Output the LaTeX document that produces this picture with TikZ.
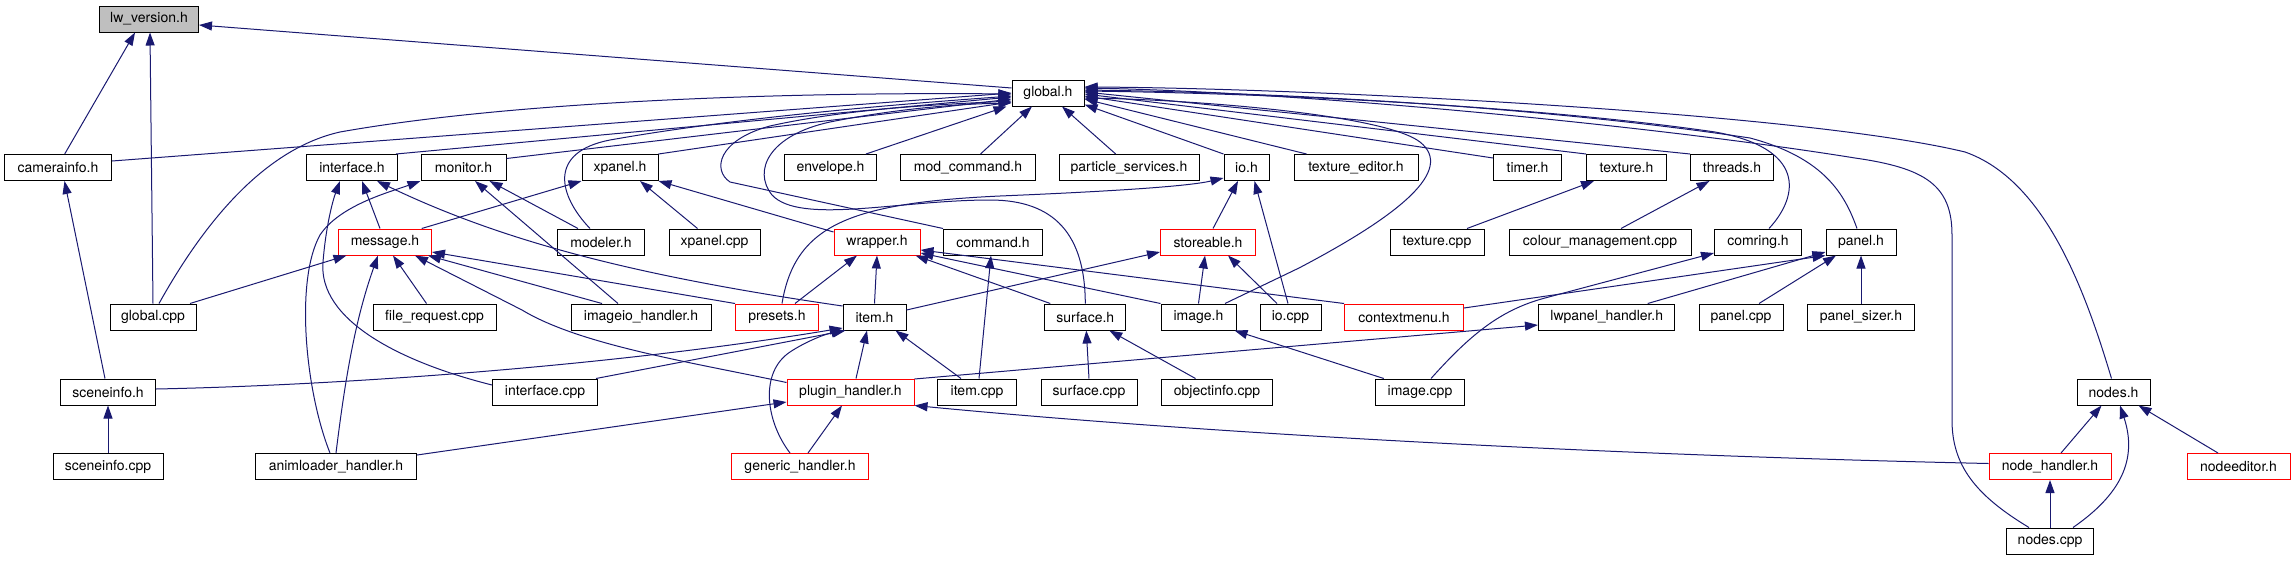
\documentclass[tikz,border=0pt]{standalone}
\usepackage{fontspec}
\setmainfont{TeX Gyre Heros}
\usetikzlibrary{arrows.meta}
\definecolor{edgec}{RGB}{25,25,112}
\definecolor{grayfill}{RGB}{191,191,191}
\begin{document}
\begin{tikzpicture}[x=1pt,y=-1pt,
  box/.style={draw=black, line width=1pt, fill=white, inner sep=0pt,
    minimum height=26pt, font=\fontsize{14}{16}\selectfont, text=black},
  redbox/.style={box, draw=red},
  e/.style={draw=edgec, line width=1pt, -{Triangle[length=13pt,width=9pt]}},
]
\useasboundingbox (0,0) rectangle (2295,560);

% row 0 / 1
\node[box,fill=grayfill,minimum width=99pt] (lw) at (149,19) {lw\_version.h};
\node[box,minimum width=72pt] (glob) at (1048,93) {global.h};
% row 2
\node[box,minimum width=107pt] (cam) at (58,167.5) {camerainfo.h};
\node[box,minimum width=91pt] (intf) at (352,167.5) {interface.h};
\node[box,minimum width=85pt] (mon) at (463.5,167.5) {monitor.h};
\node[box,minimum width=76pt] (xpan) at (620,167.5) {xpanel.h};
\node[box,minimum width=92pt] (env) at (830.5,167.5) {envelope.h};
\node[box,minimum width=135pt] (modc) at (968,167.5) {mod\_command.h};
\node[box,minimum width=140pt] (part) at (1129,167.5) {particle\_services.h};
\node[box,minimum width=45pt] (ioh) at (1246.5,167.5) {io.h};
\node[box,minimum width=124pt] (texed) at (1356,167.5) {texture\_editor.h};
\node[box,minimum width=68pt] (timer) at (1527.5,167.5) {timer.h};
\node[box,minimum width=80pt] (texh) at (1626.5,167.5) {texture.h};
\node[box,minimum width=83pt] (thr) at (1732,167.5) {threads.h};
% row 3
\node[redbox,minimum width=93pt] (msg) at (385,242) {message.h};
\node[box,minimum width=87pt] (modl) at (601,242) {modeler.h};
\node[box,minimum width=91pt] (xpcpp) at (714.5,242) {xpanel.cpp};
\node[redbox,minimum width=86pt] (wrap) at (877,242) {wrapper.h};
\node[box,minimum width=99pt] (cmd) at (993,242) {command.h};
\node[redbox,minimum width=95pt] (stor) at (1208,242) {storeable.h};
\node[box,minimum width=94pt] (texcpp) at (1437,242) {texture.cpp};
\node[box,minimum width=182pt] (colour) at (1600,242) {colour\_management.cpp};
\node[box,minimum width=87pt] (comr) at (1758,242) {comring.h};
\node[box,minimum width=70pt] (panh) at (1861,242) {panel.h};
% row 4
\node[box,minimum width=86pt] (gcpp) at (153,317) {global.cpp};
\node[box,minimum width=123pt] (freq) at (434.5,317) {file\_request.cpp};
\node[box,minimum width=140pt] (imgio) at (641,317) {imageio\_handler.h};
\node[redbox,minimum width=83pt] (pres) at (777,317) {presets.h};
\node[box,minimum width=63pt] (item) at (874.5,317) {item.h};
\node[box,minimum width=81pt] (surfh) at (1085.3,317) {surface.h};
\node[box,minimum width=75pt] (imgh) at (1198.5,317) {image.h};
\node[box,minimum width=61pt] (iocpp) at (1290.5,317) {io.cpp};
\node[redbox,minimum width=119pt] (ctx) at (1404,317) {contextmenu.h};
\node[box,minimum width=136.5pt] (lwp) at (1606.7,317) {lwpanel\_handler.h};
\node[box,minimum width=84pt] (pcpp) at (1741,317) {panel.cpp};
\node[box,minimum width=107pt] (psz) at (1861,317) {panel\_sizer.h};
% row 5
\node[box,minimum width=95pt] (scnh) at (108,392) {sceneinfo.h};
\node[box,minimum width=105pt] (intcpp) at (545,392) {interface.cpp};
\node[redbox,minimum width=127pt] (plug) at (850.5,392) {plugin\_handler.h};
\node[box,minimum width=79pt] (itcpp) at (977,392) {item.cpp};
\node[box,minimum width=96pt] (surfcpp) at (1089,392) {surface.cpp};
\node[box,minimum width=110.6pt] (objcpp) at (1217,392) {objectinfo.cpp};
\node[box,minimum width=89.5pt] (imgcpp) at (1420,392) {image.cpp};
\node[box,minimum width=73pt] (nodesh) at (2113.5,392) {nodes.h};
% row 6
\node[box,minimum width=110pt] (scncpp) at (108,466.5) {sceneinfo.cpp};
\node[box,minimum width=161pt] (anim) at (336,466.5) {animloader\_handler.h};
\node[redbox,minimum width=136.5pt] (gen) at (800,466.5) {generic\_handler.h};
\node[redbox,minimum width=122pt] (nodeh) at (2050,466.5) {node\_handler.h};
\node[redbox,minimum width=103pt] (nedit) at (2238.5,466.5) {nodeeditor.h};
% row 7
\node[box,minimum width=87pt] (ncpp) at (2050,541) {nodes.cpp};

% ---- edges into lw_version.h
\draw[e] ([shift={(0,-5)}]glob.west) -- ([shift={(0,6)}]lw.east);
\draw[e] ([shift={(6.7,0)}]cam.north) -- ([shift={(-14,0)}]lw.south);
\draw[e] (gcpp.north) -- ([shift={(1,0)}]lw.south);
% ---- edges into global.h
\draw[e] ([shift={(0,-6.5)}]cam.east) -- (glob.west);
\draw[e] ([shift={(6,0)}]gcpp.north) .. controls (200,230) and (260,150) .. (340,132) .. controls (520,100) and (800,92) .. ([shift={(0,1)}]glob.west);
\draw[e] ([shift={(-2,0)}]intf.north east) -- ([shift={(0,4)}]glob.west);
\draw[e] ([shift={(0,-9)}]mon.east) -- ([shift={(0,6)}]glob.west);
\draw[e] ([shift={(-11,0)}]modl.north) .. controls (558,195) and (548,152) .. (610,140) .. controls (750,115) and (930,102) .. ([shift={(0,3)}]glob.west);
\draw[e] (xpan.north east) -- ([shift={(0,9)}]glob.west);
\draw[e] ([shift={(35.5,0)}]env.north) -- ([shift={(-5,0)}]glob.south west);
\draw[e] ([shift={(12.5,0)}]modc.north) -- ([shift={(-16,0)}]glob.south);
\draw[e] ([shift={(-13.3,0)}]part.north) -- ([shift={(14,0)}]glob.south);
\draw[e] (ioh.north west) -- ([shift={(0,-2)}]glob.south east);
\draw[e] ([shift={(-49.5,0)}]texed.north) -- ([shift={(0,6)}]glob.east);
\draw[e] ([shift={(0,-9.5)}]timer.west) -- ([shift={(0,3)}]glob.east);
\draw[e] (texh.north west) -- ([shift={(0,1)}]glob.east);
\draw[e] (thr.north west) -- ([shift={(0,-1)}]glob.east);
\draw[e] ([shift={(11,0)}]comr.north) .. controls (1800,195) and (1805,148) .. (1715,132) .. controls (1550,108) and (1300,94) .. ([shift={(0,-2)}]glob.east);
\draw[e] ([shift={(-4,0)}]panh.north) .. controls (1845,195) and (1825,158) .. (1750,138) .. controls (1550,108) and (1300,93) .. ([shift={(0,-3)}]glob.east);
\draw[e] ([shift={(-21,0)}]ncpp.north) .. controls (1975,495) and (1952,465) .. (1952,420) -- (1952,235) .. controls (1952,185) and (1925,168) .. (1855,158) .. controls (1650,125) and (1300,92) .. ([shift={(0,-5)}]glob.east);
\draw[e] ([shift={(-2,0)}]nodesh.north) .. controls (2085,290) and (2045,180) .. (1965,152) .. controls (1800,112) and (1300,88) .. ([shift={(0,-6)}]glob.east);
\draw[e] (cmd.north west) -- (730,182) .. controls (712,170) and (718,140) .. (770,126) .. controls (850,108) and (950,104) .. ([shift={(0,8)}]glob.west);
\draw[e] (surfh.north) .. controls (1085,235) and (1055,200) .. (990,200) .. controls (900,200) and (800,225) .. (772,195) .. controls (752,170) and (770,135) .. (830,122) .. controls (900,108) and (960,104) .. ([shift={(0,10)}]glob.west);
\draw[e] ([shift={(26.5,0)}]imgh.north) -- (1299,268) .. controls (1400,215) and (1455,170) .. (1420,142) .. controls (1385,115) and (1200,100) .. ([shift={(0,5)}]glob.east);
% ---- io.h, storeable.h
\draw[e] ([shift={(5,0)}]stor.north) -- ([shift={(-8.5,0)}]ioh.south);
\draw[e] ([shift={(-2.5,0)}]iocpp.north) -- ([shift={(8,0)}]ioh.south);
\draw[e] ([shift={(5,0)}]pres.north) .. controls (795,225) and (850,203) .. (1000,196) .. controls (1120,191) and (1190,186) .. ([shift={(0,-3)}]ioh.south west);
\draw[e] ([shift={(-13.5,0)}]iocpp.north) -- ([shift={(20,0)}]stor.south);
\draw[e] (imgh.north) -- ([shift={(-3,0)}]stor.south);
\draw[e] ([shift={(0,-7)}]item.east) -- ([shift={(0,10)}]stor.west);
% ---- wrapper.h
\draw[e] (item.north) -- (wrap.south);
\draw[e] ([shift={(18,0)}]pres.north) -- ([shift={(-20,0)}]wrap.south);
\draw[e] ([shift={(-35,0)}]surfh.north) -- ([shift={(-5,0)}]wrap.south east);
\draw[e] (imgh.north west) -- ([shift={(0,11)}]wrap.east);
\draw[e] (ctx.north west) -- ([shift={(0,8)}]wrap.east);
% ---- xpanel.h, interface.h, monitor.h
\draw[e] ([shift={(0,-10)}]wrap.west) -- (xpan.south east);
\draw[e] ([shift={(36.7,0)}]msg.north) -- (xpan.south west);
\draw[e] ([shift={(-17,0)}]xpcpp.north) -- ([shift={(20,0)}]xpan.south);
\draw[e] ([shift={(-5,0)}]msg.north) -- ([shift={(10,0)}]intf.south);
\draw[e] ([shift={(-23,0)}]modl.north) -- ([shift={(26,0)}]mon.south);
\draw[e] ([shift={(-23,0)}]imgio.north) -- ([shift={(11.5,0)}]mon.south);
\draw[e] ([shift={(-6,0)}]anim.north) .. controls (305,390) and (295,280) .. (320,235) .. controls (340,205) and (390,192) .. (mon.south west);
\draw[e] ([shift={(0,-11)}]item.west) .. controls (650,278) and (510,245) .. ([shift={(25,0)}]intf.south);
\draw[e] ([shift={(0,-7)}]intcpp.west) .. controls (400,362) and (318,320) .. (323,262) .. controls (326,225) and (333,200) .. ([shift={(-12,0)}]intf.south);
% ---- message.h
\draw[e] (anim.north) .. controls (345,380) and (355,320) .. ([shift={(-7,0)}]msg.south);
\draw[e] ([shift={(37,0)}]gcpp.north) -- ([shift={(8.5,0)}]msg.south west);
\draw[e] ([shift={(-8,0)}]freq.north) -- ([shift={(8,0)}]msg.south);
\draw[e] ([shift={(-39,0)}]imgio.north) -- ([shift={(-4,0)}]msg.south east);
\draw[e] (pres.north west) -- ([shift={(0,10)}]msg.east);
\draw[e] ([shift={(0,-9.5)}]plug.west) .. controls (690,362) and (580,345) .. (522,310) -- ([shift={(30,0)}]msg.south);
% ---- item.h
\draw[e] ([shift={(0,-3)}]scnh.east) .. controls (350,385) and (620,365) .. ([shift={(0,11)}]item.west);
\draw[e] ([shift={(-2,0)}]intcpp.north east) -- ([shift={(3,0)}]item.south west);
\draw[e] ([shift={(5.5,0)}]plug.north) -- ([shift={(-7.5,0)}]item.south);
\draw[e] ([shift={(-10,0)}]gen.north) .. controls (765,420) and (760,372) .. (790,352) .. controls (805,342) and (825,334) .. ([shift={(2,0)}]item.south west);
\draw[e] ([shift={(-16,0)}]itcpp.north) -- ([shift={(21,0)}]item.south);
\draw[e] ([shift={(2,0)}]itcpp.north) -- ([shift={(-2,0)}]cmd.south);
% ---- plugin_handler.h, lwpanel_handler.h
\draw[e] ([shift={(8,0)}]gen.north) -- ([shift={(-8.5,0)}]plug.south);
\draw[e] ([shift={(0,-11.5)}]anim.east) -- ([shift={(0,10)}]plug.west);
\draw[e] ([shift={(0,-3)}]nodeh.west) .. controls (1600,455) and (1200,433) .. (plug.south east);
\draw[e] ([shift={(0,-13)}]plug.east) -- ([shift={(0,8)}]lwp.west);
% ---- sceneinfo, camerainfo
\draw[e] (scncpp.north) -- (scnh.south);
\draw[e] ([shift={(-3,0)}]scnh.north) -- ([shift={(6.5,0)}]cam.south);
% ---- surface, image, comring, panel
\draw[e] (surfcpp.north) -- ([shift={(1,0)}]surfh.south);
\draw[e] ([shift={(-21.5,0)}]objcpp.north) -- ([shift={(24,0)}]surfh.south);
\draw[e] ([shift={(9,0)}]imgcpp.north west) -- ([shift={(-2,0)}]imgh.south east);
\draw[e] ([shift={(11,0)}]imgcpp.north) .. controls (1470,335) and (1500,310) .. (1545,298) -- ([shift={(0,11)}]comr.west);
\draw[e] ([shift={(0,-9)}]ctx.east) -- (panh.south west);
\draw[e] ([shift={(41,0)}]lwp.north) -- ([shift={(0,10)}]panh.west);
\draw[e] ([shift={(18,0)}]pcpp.north) -- ([shift={(-25,0)}]panh.south);
\draw[e] (psz.north) -- (panh.south);
\draw[e] ([shift={(30,0)}]texcpp.north) -- ([shift={(8,0)}]texh.south west);
\draw[e] ([shift={(21,0)}]colour.north) -- ([shift={(19.5,0)}]thr.south west);
% ---- nodes
\draw[e] ([shift={(11,0)}]nodeh.north) -- ([shift={(-12,0)}]nodesh.south);
\draw[e] ([shift={(23,0)}]ncpp.north) .. controls (2120,495) and (2138,460) .. ([shift={(6.5,0)}]nodesh.south);
\draw[e] ([shift={(-20.5,0)}]nedit.north) -- ([shift={(-12,0)}]nodesh.south east);
\draw[e] (ncpp.north) -- (nodeh.south);
\end{tikzpicture}
\end{document}
